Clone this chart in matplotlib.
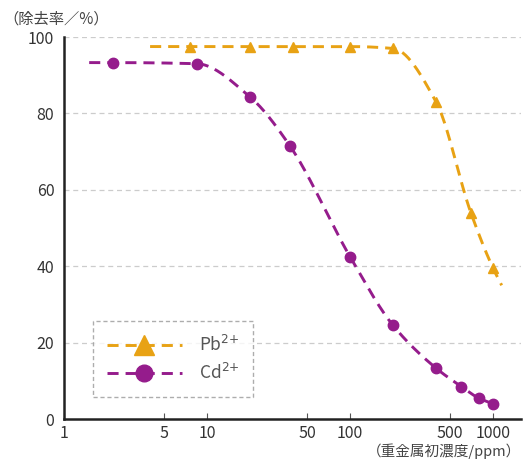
import numpy as np
import matplotlib
matplotlib.use("Agg")
import matplotlib.pyplot as plt
from matplotlib.lines import Line2D

plt.rcParams['font.family'] = ['Noto Sans CJK JP', 'DejaVu Sans']

# ---- data ----
pb_x = [7.6, 20, 40, 100, 200, 400, 700, 1000]
pb_y = [97.5, 97.5, 97.5, 97.5, 97.0, 83.0, 54.0, 39.5]
pb_line_x = [4, 7.6, 20, 40, 100, 200, 400, 700, 1000, 1150]
pb_line_y = [97.5, 97.5, 97.5, 97.5, 97.5, 97.0, 83.0, 54.0, 39.5, 35.0]

cd_x = [2.2, 8.5, 20, 38, 100, 200, 400, 600, 800, 1000]
cd_y = [93.3, 93.0, 84.3, 71.5, 42.5, 24.5, 13.3, 8.5, 5.4, 3.9]
cd_line_x = [1.5, 2.2, 8.5, 20, 38, 100, 200, 400, 600, 800, 1000, 1080]
cd_line_y = [93.3, 93.3, 93.0, 84.3, 71.5, 42.5, 24.5, 13.3, 8.5, 5.4, 3.9, 2.9]

x_ticks = [1, 5, 10, 50, 100, 500, 1000]
x_tick_labels = ['1', '5', '10', '50', '100', '500', '1000']
y_ticks = [0, 20, 40, 60, 80, 100]

ORANGE = '#E8A214'
PURPLE = '#951C8C'


def pchip(x, y, xn):
    x = np.asarray(x, float); y = np.asarray(y, float)
    h = np.diff(x); d = np.diff(y) / h
    n = len(x); m = np.zeros(n)
    for k in range(1, n - 1):
        if d[k - 1] * d[k] > 0:
            w1 = 2 * h[k] + h[k - 1]; w2 = h[k] + 2 * h[k - 1]
            m[k] = (w1 + w2) / (w1 / d[k - 1] + w2 / d[k])
    m[0] = d[0]
    m[-1] = d[-1]
    out = np.empty_like(xn)
    idx = np.clip(np.searchsorted(x, xn) - 1, 0, n - 2)
    for j, (xv, i) in enumerate(zip(xn, idx)):
        t = (xv - x[i]) / h[i]
        h00 = 2 * t**3 - 3 * t**2 + 1; h10 = t**3 - 2 * t**2 + t
        h01 = -2 * t**3 + 3 * t**2; h11 = t**3 - t**2
        out[j] = h00 * y[i] + h10 * h[i] * m[i] + h01 * y[i + 1] + h11 * h[i] * m[i + 1]
    return out


def smooth(xs, ys):
    lx = np.log10(xs)
    xn = np.linspace(lx[0], lx[-1], 400)
    return 10 ** xn, pchip(lx, ys, xn)


fig = plt.figure(figsize=(5.23, 4.59), dpi=100)
ax = fig.add_axes([64 / 523, 1 - 419 / 459, (521 - 64) / 523, (419 - 37) / 459])
ax.set_xscale('log')
ax.set_xlim(1, 10 ** ((521 - 64) / 143))
ax.set_ylim(0, 100)

for yv in y_ticks[1:]:
    ax.axhline(yv, color='#cccccc', lw=0.9, ls=(0, (4, 3)), zorder=0)

DASH = (0, (3.8, 2.4))
sx, sy = smooth(pb_line_x, pb_line_y)
ax.plot(sx, sy, color=ORANGE, lw=2.1, ls=DASH, zorder=2)
ax.plot(pb_x, pb_y, ls='none', marker='^', ms=6.5, color=ORANGE, zorder=3)

sx, sy = smooth(cd_line_x, cd_line_y)
ax.plot(sx, sy, color=PURPLE, lw=2.1, ls=DASH, zorder=2)
ax.plot(cd_x, cd_y, ls='none', marker='o', ms=7.5, color=PURPLE, zorder=3)

for s in ['top', 'right']:
    ax.spines[s].set_visible(False)
for s in ['left', 'bottom']:
    ax.spines[s].set_linewidth(1.8)
    ax.spines[s].set_color('#222222')

ax.set_xticks(x_ticks)
ax.set_xticklabels(x_tick_labels)
ax.xaxis.set_minor_locator(matplotlib.ticker.NullLocator())
ax.tick_params(axis='x', direction='in', length=4, width=0.8, color='#555555',
               labelsize=11.5, labelcolor='#333333', pad=4)
ax.set_yticks(y_ticks)
ax.tick_params(axis='y', length=0, labelsize=11.5, labelcolor='#333333', pad=7)

fig.text(3 / 523, 1 - 19 / 459, '（除去率／%）', fontsize=11, color='#444444',
         ha='left', va='center', family=['Noto Sans CJK JP', 'DejaVu Sans'])
fig.text(521 / 523, 1 - 451 / 459, '（重金属初濃度/ppm）', fontsize=10.5, color='#444444',
         ha='right', va='center', family=['Noto Sans CJK JP', 'DejaVu Sans'])

handles = [
    Line2D([], [], color=ORANGE, lw=2.1, ls=DASH, marker='^', ms=14),
    Line2D([], [], color=PURPLE, lw=2.1, ls=DASH, marker='o', ms=12),
]
leg = ax.legend(handles, ['Pb$^{2{+}}$', 'Cd$^{2{+}}$'], loc='lower left',
                bbox_to_anchor=((93 - 64) / 457, (419 - 397) / 382),
                frameon=True, fancybox=False, handlelength=4.3, fontsize=12.5,
                labelspacing=0.45, borderpad=0.8, handletextpad=1.0,
                borderaxespad=0)
leg.get_frame().set_edgecolor('#999999')
leg.get_frame().set_linestyle((0, (3, 2)))
leg.get_frame().set_linewidth(1.0)
for t in leg.get_texts():
    t.set_color('#555555')

fig.savefig('out.png', dpi=100)
